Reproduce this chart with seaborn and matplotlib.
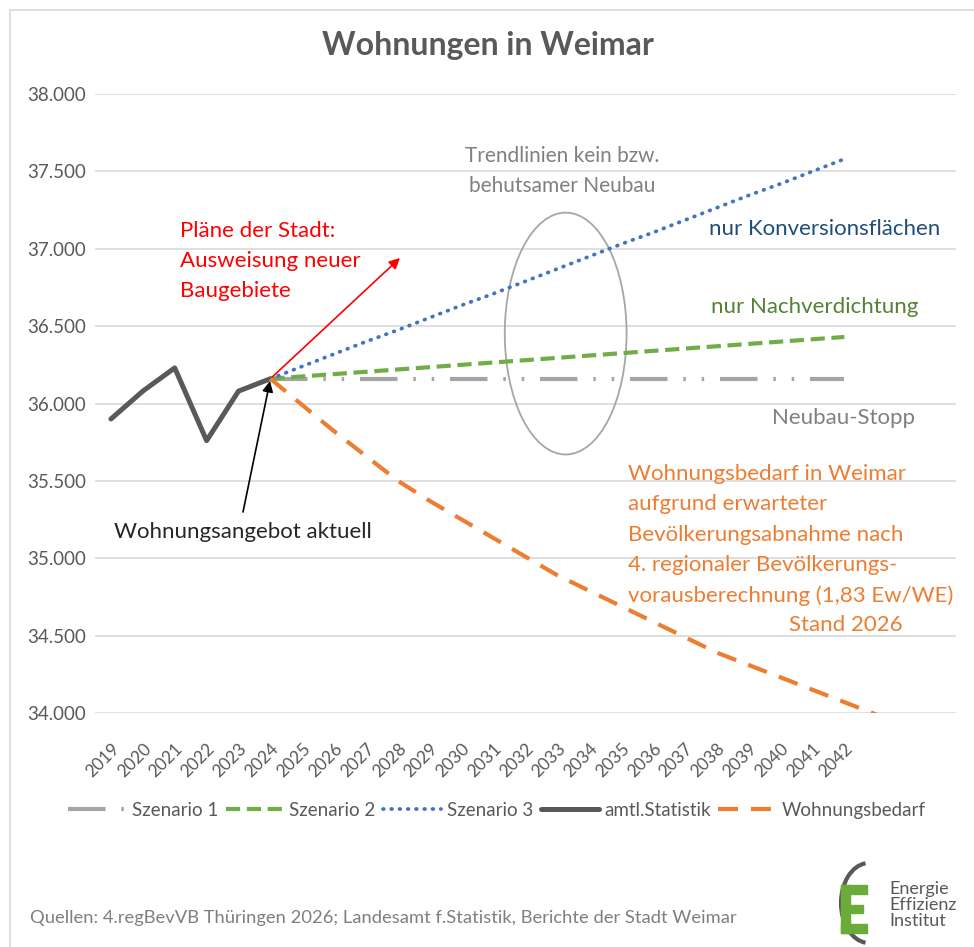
import numpy as np
import pandas as pd
import seaborn as sns
import matplotlib.pyplot as plt
from matplotlib.patches import Ellipse, Arc, Rectangle
from matplotlib.ticker import FuncFormatter
from matplotlib.lines import Line2D

# data
years_hist = [2019, 2020, 2021, 2022, 2023, 2024]
statistik = [35900, 36080, 36230, 35760, 36080, 36160]

years_proj = list(range(2024, 2043))
szenario1 = [36160, 36160, 36160, 36160, 36160, 36160, 36160, 36160, 36160, 36160,
             36160, 36160, 36160, 36160, 36160, 36160, 36160, 36160, 36160]
szenario2 = [36160, 36175, 36190, 36205, 36220, 36235, 36250, 36265, 36280, 36295,
             36310, 36325, 36340, 36355, 36370, 36385, 36400, 36415, 36430]
szenario3 = [36160, 36240, 36320, 36400, 36475, 36555, 36635, 36710, 36790, 36870,
             36950, 37030, 37105, 37185, 37265, 37345, 37420, 37500, 37580]

years_bedarf = list(range(2024, 2044))
bedarf = [36160, 35990, 35820, 35660, 35500, 35370, 35250, 35130, 35010, 34890,
          34790, 34690, 34590, 34490, 34390, 34310, 34230, 34150, 34070, 33990]

tick_years = list(range(2019, 2043))

sns.set_theme(style="white")
plt.rcParams['font.family'] = ['Lato', 'DejaVu Sans']

W, H = 974, 947
fig = plt.figure(figsize=(W / 100, H / 100), dpi=100)
ax = fig.add_axes([95 / W, 1 - 713 / H, (956 - 95) / W, (713 - 94) / H])

def fp(x, y):
    # figure pixel position measured from the top left
    return (x, H - y)

C_GRAY = "#A5A5A5"
C_GREEN = "#70AD47"
C_BLUE = "#4472C4"
C_DARK = "#595959"
C_ORANGE = "#ED7D31"

ls1 = (0, (9, 3.8, 0.6, 3.8, 0.6, 3.8))
ls2 = (0, (3.4, 1.6))
ls3 = (0, (0.2, 2.0))
ls5 = (0, (4.8, 3.1))

lw = 3.0
sns.lineplot(x=years_proj, y=szenario1, color=C_GRAY, linewidth=lw,
             linestyle=ls1, ax=ax)
sns.lineplot(x=years_proj, y=szenario2, color=C_GREEN, linewidth=lw,
             linestyle=ls2, ax=ax)
sns.lineplot(x=years_proj, y=szenario3, color=C_BLUE, linewidth=2.7,
             linestyle=ls3, dash_capstyle="round", ax=ax)
sns.lineplot(x=years_hist, y=statistik, color=C_DARK, linewidth=3.6, ax=ax)
sns.lineplot(x=years_bedarf, y=bedarf, color=C_ORANGE, linewidth=lw,
             linestyle=ls5, ax=ax)

ax.set_xlim(2018.5, 2045.5)
ax.set_ylim(34000, 38000)
ax.set_yticks(np.arange(34000, 38001, 500))
ax.yaxis.set_major_formatter(FuncFormatter(lambda v, p: f"{v:,.0f}".replace(",", ".")))
ax.set_xticks(tick_years)
ax.set_xticklabels([str(y) for y in tick_years], rotation=45, ha="right",
                   rotation_mode="anchor")
ax.tick_params(axis="x", length=0, pad=20, labelsize=12.5, labelcolor=C_DARK)
ax.tick_params(axis="y", length=0, pad=6.5, labelsize=13.5, labelcolor=C_DARK)
ax.grid(axis="y", color="#D9D9D9", linewidth=1.2)
ax.set_axisbelow(True)
for s in ax.spines.values():
    s.set_visible(False)
ax.set_xlabel("")
ax.set_ylabel("")

# ellipse around the trend lines
ax.add_patch(Ellipse((2033.26, 36452), 3.82, 1563, fill=False,
                     edgecolor="#A6A6A6", linewidth=1.3))

# annotations
FS = 16
fig.text(488 / W, 1 - 45 / H, "Wohnungen in Weimar", ha="center", va="center",
         fontsize=23, fontweight="bold", color=C_DARK)
fig.text(562 / W, 1 - 171 / H, "Trendlinien kein bzw.\nbehutsamer Neubau",
         ha="center", va="center", fontsize=15, color="#808080", linespacing=1.6)
fig.text(825 / W, 1 - 229 / H, "nur Konversionsflächen", ha="center", va="center",
         fontsize=FS, color="#1F4E79")
fig.text(815 / W, 1 - 307 / H, "nur Nachverdichtung", ha="center", va="center",
         fontsize=FS, color="#548235")
fig.text(843 / W, 1 - 418 / H, "Neubau-Stopp", ha="center", va="center",
         fontsize=FS, color="#808080")
fig.text(180 / W, 1 - 261 / H, "Pläne der Stadt:\nAusweisung neuer\nBaugebiete",
         ha="left", va="center", fontsize=FS, color="#FF0000", linespacing=1.6)
fig.text(628 / W, 1 - 535 / H,
         "Wohnungsbedarf in Weimar\naufgrund erwarteter\nBevölkerungsabnahme nach\n"
         "4. regionaler Bevölkerungs-\nvorausberechnung (1,83 Ew/WE)",
         ha="left", va="center", fontsize=FS, color=C_ORANGE, linespacing=1.65)
fig.text(903 / W, 1 - 625 / H, "Stand 2026", ha="right", va="center",
         fontsize=FS, color=C_ORANGE)

ax.annotate("", xy=fp(400, 258), xycoords="figure pixels",
            xytext=(2024, 36160), textcoords="data",
            arrowprops=dict(arrowstyle="-|>", color="#FF0000", lw=1.2,
                            mutation_scale=16, shrinkA=2, shrinkB=0))
ax.annotate("", xy=fp(270, 381), xycoords="figure pixels",
            xytext=fp(243, 512), textcoords="figure pixels",
            arrowprops=dict(arrowstyle="-|>", color="#000000", lw=1.2,
                            mutation_scale=16, shrinkA=0, shrinkB=0))
fig.text(243 / W, 1 - 532 / H, "Wohnungsangebot aktuell", ha="center", va="center",
         fontsize=FS, color="#262626")

# legend
handles = [
    Line2D([], [], color=C_GRAY, linewidth=lw, linestyle=(0, (9, 3.8, 0.6, 3.8))),
    Line2D([], [], color=C_GREEN, linewidth=lw, linestyle=ls2),
    Line2D([], [], color=C_BLUE, linewidth=2.7, linestyle=ls3, dash_capstyle="round"),
    Line2D([], [], color=C_DARK, linewidth=3.6),
    Line2D([], [], color=C_ORANGE, linewidth=lw, linestyle=ls5),
]
labels = ["Szenario 1", "Szenario 2", "Szenario 3", "amtl.Statistik", "Wohnungsbedarf"]
fig.legend(handles, labels, loc="center", bbox_to_anchor=(497 / W, 1 - 810 / H),
           ncol=5, frameon=False, fontsize=13.5, handlelength=3.1,
           columnspacing=0.4, handletextpad=0.3, labelcolor=C_DARK)

# footer
fig.text(30 / W, 1 - 918 / H,
         "Quellen: 4.regBevVB Thüringen 2026; Landesamt f.Statistik, Berichte der Stadt Weimar",
         ha="left", va="center", fontsize=13.2, color="#7F7F7F")

# frame lines
fig.add_artist(Line2D([10 / W, 1], [1 - 10 / H, 1 - 10 / H], color="#D9D9D9", lw=1.2))
fig.add_artist(Line2D([10 / W, 10 / W], [0, 1 - 10 / H], color="#D9D9D9", lw=1.2))

# logo
lax = fig.add_axes([835 / W, 1 - 945 / H, 50 / W, 85 / H])
lax.set_xlim(0, 50)
lax.set_ylim(0, 85)
lax.axis("off")
lax.add_patch(Arc((34, 42), 56, 80, theta1=95, theta2=265, color="#595959", lw=3))
lax.add_patch(Rectangle((6, 12), 9, 48, color="#6AAB3A"))
lax.add_patch(Rectangle((6, 51), 26, 9, color="#6AAB3A"))
lax.add_patch(Rectangle((6, 32), 22, 8, color="#6AAB3A"))
lax.add_patch(Rectangle((6, 12), 26, 9, color="#6AAB3A"))
fig.text(889 / W, 1 - 905 / H, "Energie\nEffizienz\nInstitut", ha="left", va="center",
         fontsize=13, color="#595959", linespacing=1.0)

fig.savefig("out.png", dpi=100)
